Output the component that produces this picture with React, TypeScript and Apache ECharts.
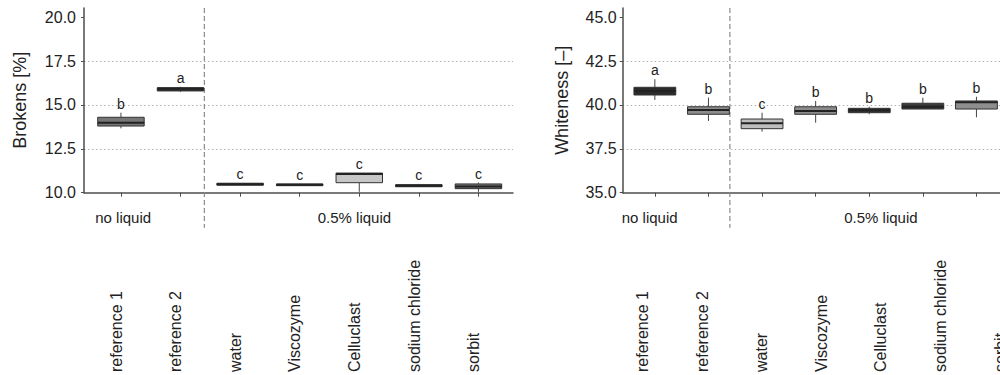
import React, { useEffect, useRef } from 'react';
import * as echarts from 'echarts';

const categories = ['reference 1', 'reference 2', 'water', 'Viscozyme', 'Celluclast', 'sodium chloride', 'sorbit'];
const groupLabels = ['no liquid', '0.5% liquid'];
const groupPositions = [0.12, 4.0];
const dividerPosition = 1.4;

const brokensTicks = [10, 12.5, 15, 17.5, 20];
const whitenessTicks = [35, 37.5, 40, 42.5, 45];

// [min, q1, median, q3, max]
const brokensBoxes = [
  [13.67, 13.8, 13.99, 14.3, 14.56],
  [15.75, 15.8, 15.92, 15.99, 16.04],
  [10.42, 10.43, 10.48, 10.54, 10.55],
  [10.39, 10.4, 10.45, 10.5, 10.51],
  [10.05, 10.57, 11.07, 11.12, 11.12],
  [10.33, 10.34, 10.4, 10.46, 10.5],
  [10.05, 10.23, 10.36, 10.5, 10.58],
];
const brokensLetters = ['b', 'a', 'c', 'c', 'c', 'c', 'c'];

const whitenessBoxes = [
  [40.29, 40.57, 40.8, 41.01, 41.47],
  [39.09, 39.47, 39.72, 39.9, 40.42],
  [38.48, 38.65, 38.96, 39.2, 39.56],
  [38.99, 39.47, 39.66, 39.9, 40.23],
  [39.47, 39.56, 39.7, 39.81, 39.9],
  [39.77, 39.77, 39.9, 40.1, 40.42],
  [39.3, 39.77, 40.15, 40.23, 40.47],
];
const whitenessLetters = ['a', 'b', 'c', 'b', 'b', 'b', 'b'];

// styles
const brokensFills = ['#767676', '#333333', '#333333', '#333333', '#c6c6c6', '#383838', '#727272'];
const whitenessFills = ['#2b2b2b', '#8c8c8c', '#bebebe', '#8c8c8c', '#353535', '#3d3d3d', '#8e8e8e'];

const FONT = 'Liberation Sans, Arial, sans-serif';
const TEXT = '#222';
const AXIS = '#4d4d4d';

const boxRender = (letters: string[], fills: string[]) => (params: any, api: any) => {
  const i = params.dataIndex;
  const x = api.value(0);
  const p = (v: number) => api.coord([x, v]);
  const cx = p(api.value(1))[0];
  const yMin = p(api.value(1))[1];
  const yQ1 = p(api.value(2))[1];
  const yMed = p(api.value(3))[1];
  const yQ3 = p(api.value(4))[1];
  const yMax = p(api.value(5))[1];
  const w = api.size([0.78, 0])[0];
  return {
    type: 'group',
    children: [
      { type: 'line', shape: { x1: cx, y1: yMax, x2: cx, y2: yQ3 }, style: { stroke: '#444', lineWidth: 1 } },
      { type: 'line', shape: { x1: cx, y1: yQ1, x2: cx, y2: yMin }, style: { stroke: '#444', lineWidth: 1 } },
      {
        type: 'rect',
        shape: { x: cx - w / 2, y: yQ3, width: w, height: Math.max(yQ1 - yQ3, 1) },
        style: { fill: fills[i], stroke: '#333', lineWidth: 1 },
      },
      { type: 'line', shape: { x1: cx - w / 2, y1: yMed, x2: cx + w / 2, y2: yMed }, style: { stroke: '#222', lineWidth: 2 } },
      {
        type: 'text',
        x: cx,
        y: yMax - 2,
        style: { text: letters[i], fill: TEXT, fontSize: 14, fontFamily: FONT, align: 'center', verticalAlign: 'bottom' },
      },
    ],
  };
};

const dividerRender = (params: any, api: any) => {
  const cx = api.coord([api.value(0), api.value(1)])[0];
  const cs = params.coordSys;
  return {
    type: 'line',
    shape: { x1: cx, y1: cs.y, x2: cx, y2: cs.y + cs.height + 35 },
    style: { stroke: '#8a8a8a', lineWidth: 1.2, lineDash: [5, 3] },
  };
};

const groupRender = (params: any, api: any) => {
  const [gx, gy] = api.coord([api.value(0), 0]);
  return {
    type: 'text',
    x: gx,
    y: gy + 27,
    style: { text: groupLabels[params.dataIndex], fill: TEXT, fontSize: 15, fontFamily: FONT, align: 'center', verticalAlign: 'middle' },
  };
};

const idx = categories.map((_, i) => i);

const boxXAxis = (gridIndex: number, min: number, max: number) => ({
  type: 'value',
  gridIndex,
  min,
  max,
  axisLine: { show: true, onZero: false, lineStyle: { color: AXIS, width: 1.5 } },
  axisTick: { show: true, customValues: idx, length: 4, lineStyle: { color: AXIS } },
  axisLabel: { show: false },
  splitLine: { show: false },
});

const labelXAxis = (gridIndex: number) => ({
  type: 'value',
  gridIndex,
  min: -0.5,
  max: 6.5,
  axisLine: { show: false, onZero: false },
  axisTick: { show: false },
  splitLine: { show: false },
  axisLabel: {
    show: true,
    customValues: idx,
    formatter: (v: number) => categories[Math.round(v)] ?? '',
    rotate: 90,
    align: 'left',
    verticalAlign: 'middle',
    margin: 182,
    fontSize: 16,
    fontFamily: FONT,
    color: TEXT,
  },
});

const boxYAxis = (gridIndex: number, min: number, max: number, ticks: number[], name: string, nameGap: number, labelMargin: number) => ({
  type: 'value',
  gridIndex,
  min,
  max,
  interval: 2.5,
  name,
  nameLocation: 'middle',
  nameGap,
  nameRotate: 90,
  nameTextStyle: { fontSize: 18, fontFamily: FONT, color: TEXT },
  axisLine: { show: true, onZero: false, lineStyle: { color: AXIS, width: 1.5 } },
  axisTick: { show: true, customValues: ticks, length: 3, lineStyle: { color: AXIS } },
  axisLabel: {
    customValues: ticks,
    formatter: (v: number) => v.toFixed(1),
    fontSize: 16,
    fontFamily: FONT,
    color: TEXT,
    margin: labelMargin,
  },
  splitLine: {
    show: true,
    showMinLine: false,
    showMaxLine: false,
    lineStyle: { color: '#b0b0b0', type: [1.5, 2.5], width: 1 },
  },
});

export default function App() {
  const ref = useRef<HTMLDivElement>(null);
  useEffect(() => {
    if (!ref.current) return;
    const chart = echarts.init(ref.current, undefined, { renderer: 'svg' });
    chart.setOption({
      animation: false,
      backgroundColor: '#fff',
      grid: [
        { left: 84, top: 8, width: 429, height: 184.7, outerBoundsMode: 'none', containLabel: false },
        { left: 622.7, top: 8, width: 385.9, height: 184.7, outerBoundsMode: 'none', containLabel: false },
        { left: 86.2, top: 0, width: 417.2, height: 190, outerBoundsMode: 'none', containLabel: false },
        { left: 612.7, top: 0, width: 417.2, height: 190, outerBoundsMode: 'none', containLabel: false },
      ],
      xAxis: [boxXAxis(0, -0.62, 6.58), boxXAxis(1, -0.6, 6.6), labelXAxis(2), labelXAxis(3)],
      yAxis: [
        boxYAxis(0, 10, 20.53, brokensTicks, 'Brokens [%]', 55, 8),
        boxYAxis(1, 35, 45.53, whitenessTicks, 'Whiteness [\u2013]', 52, 6),
        { type: 'value', gridIndex: 2, min: 0, max: 1, show: false },
        { type: 'value', gridIndex: 3, min: 0, max: 1, show: false },
      ],
      series: [
        {
          type: 'custom',
          xAxisIndex: 0,
          yAxisIndex: 0,
          renderItem: dividerRender,
          data: [[dividerPosition, 10]],
          silent: true,
          z: 1,
        },
        {
          type: 'custom',
          xAxisIndex: 1,
          yAxisIndex: 1,
          renderItem: dividerRender,
          data: [[dividerPosition, 35]],
          silent: true,
          z: 1,
        },
        {
          type: 'custom',
          xAxisIndex: 0,
          yAxisIndex: 0,
          renderItem: boxRender(brokensLetters, brokensFills),
          encode: { x: 0, y: [1, 2, 3, 4, 5] },
          data: brokensBoxes.map((b, i) => [i, ...b]),
          z: 3,
        },
        {
          type: 'custom',
          xAxisIndex: 1,
          yAxisIndex: 1,
          renderItem: boxRender(whitenessLetters, whitenessFills),
          encode: { x: 0, y: [1, 2, 3, 4, 5] },
          data: whitenessBoxes.map((b, i) => [i, ...b]),
          z: 3,
        },
        {
          type: 'custom',
          xAxisIndex: 2,
          yAxisIndex: 2,
          renderItem: groupRender,
          data: groupPositions.map((g) => [g, 0]),
        },
        {
          type: 'custom',
          xAxisIndex: 3,
          yAxisIndex: 3,
          renderItem: groupRender,
          data: groupPositions.map((g) => [g, 0]),
        },
      ],
    });
    return () => chart.dispose();
  }, []);
  return <div ref={ref} style={{ position: 'fixed', left: 0, top: 0, width: 1000, height: 375 }} />;
}
